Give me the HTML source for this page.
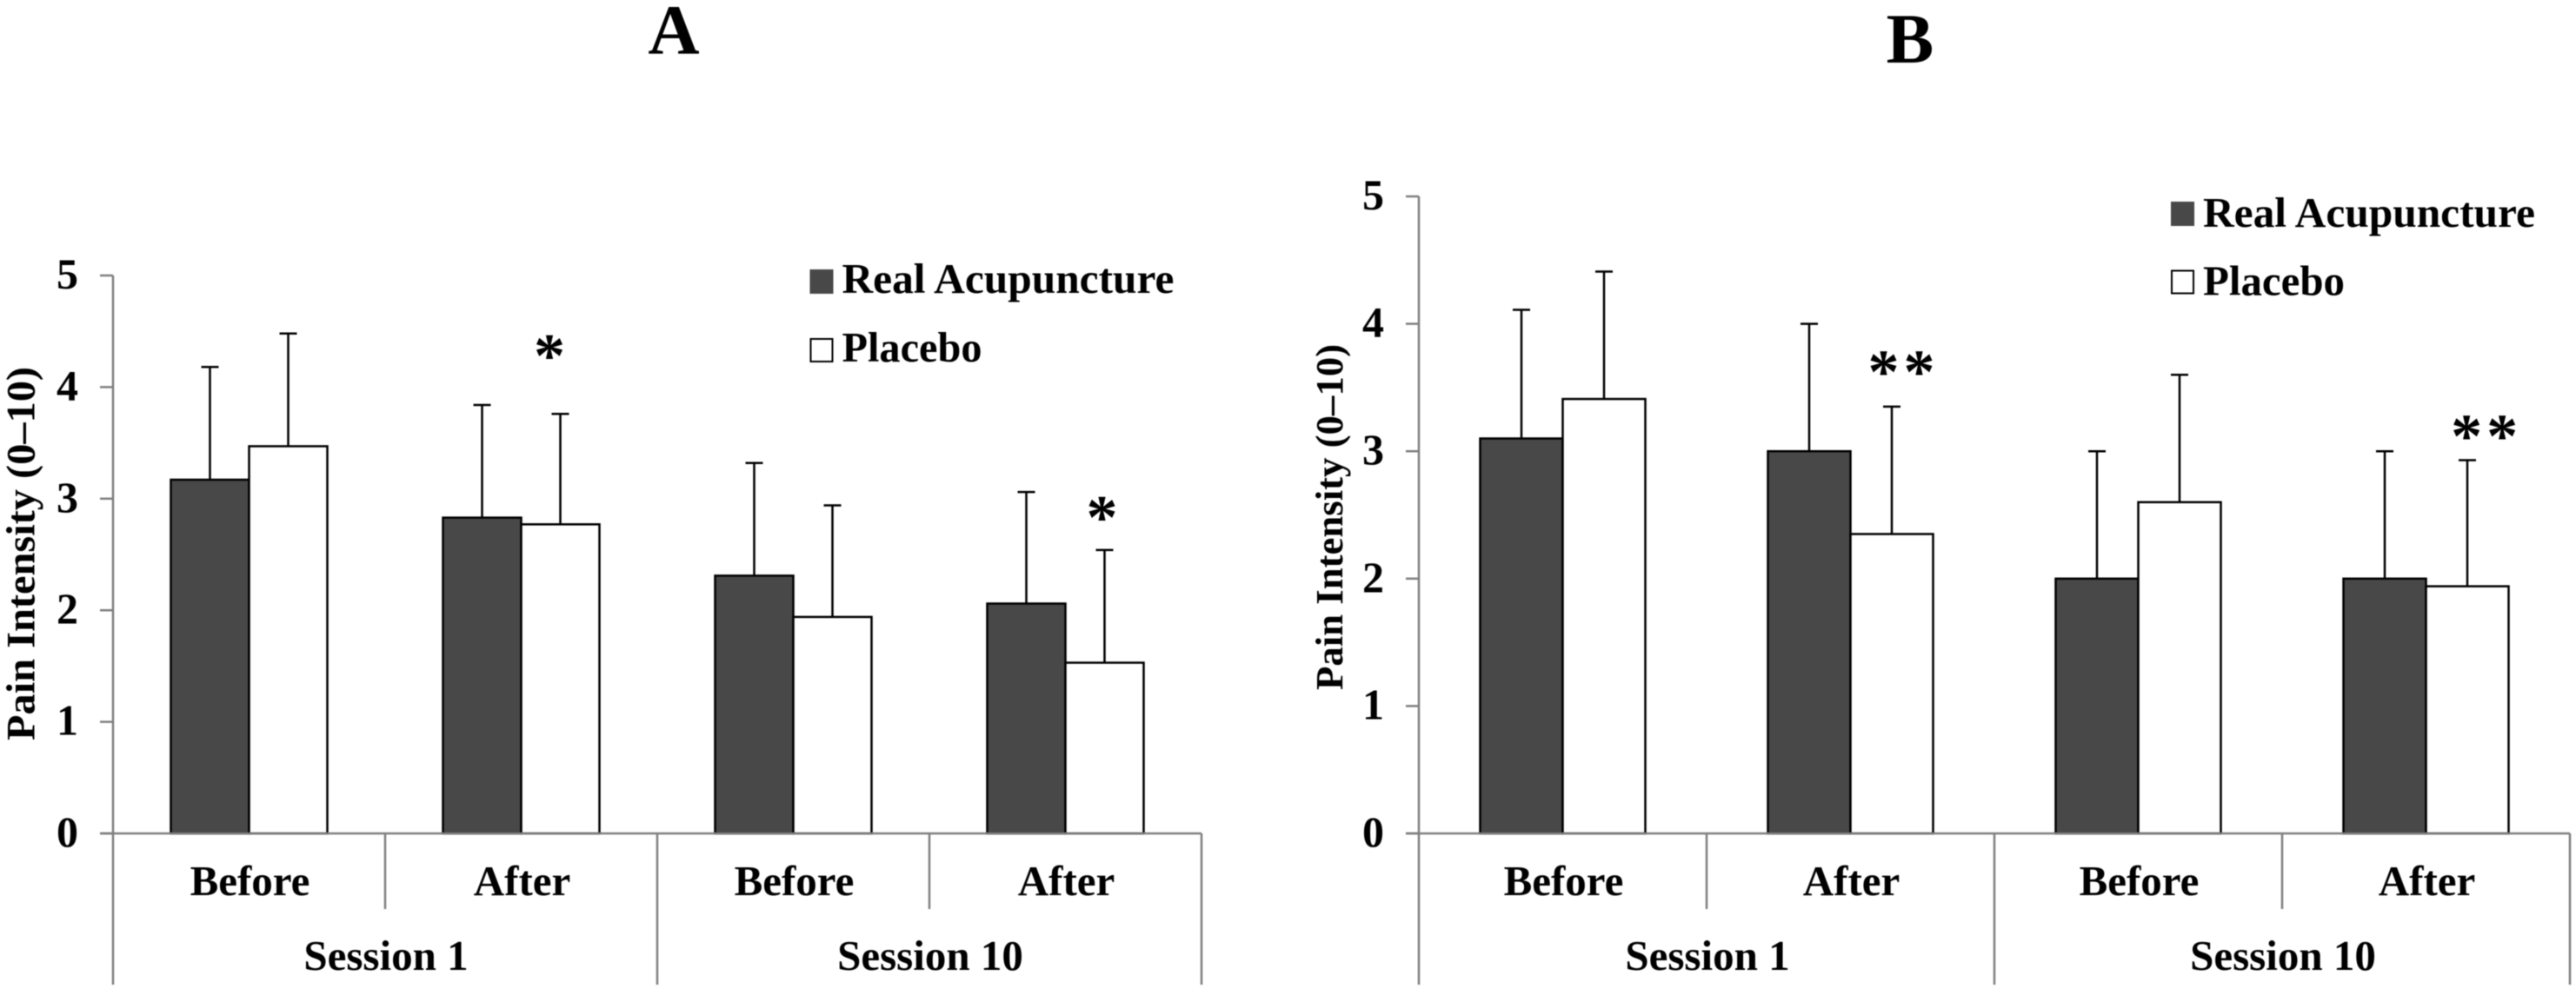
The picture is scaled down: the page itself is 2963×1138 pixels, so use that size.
<!DOCTYPE html>
<html lang="en">
<head>
<meta charset="utf-8">
<title>Pain Intensity: Real Acupuncture vs Placebo</title>
<style>
html,body{margin:0;padding:0;background:#fff;}
svg{display:block;filter:blur(0.5px);}
text{font-family:"Liberation Serif","Times New Roman",serif;font-weight:bold;fill:#000;}
</style>
</head>
<body>
<svg id="figure" width="2963" height="1138" viewBox="0 0 2963 1138" xmlns="http://www.w3.org/2000/svg"></svg>
<script>
// ---- data ----
const categories = ["Before", "After", "Before", "After"];
const sessions = ["Session 1", "Session 10"];
const yTicks = [0, 1, 2, 3, 4, 5];
const seriesNames = ["Real Acupuncture", "Placebo"];
const yAxisTitle = "Pain Intensity (0\u201310)";

const realA = [3.17, 2.83, 2.31, 2.06];
const placeboA = [3.47, 2.77, 1.94, 1.53];
const realTopA = [4.18, 3.84, 3.32, 3.06];
const placeboTopA = [4.48, 3.76, 2.94, 2.54];
const marksA = ["", "*", "", "*"];
const markLevelsA = [0, 4.32, 0, 2.87];

const realB = [3.1, 3.0, 2.0, 2.0];
const placeboB = [3.41, 2.35, 2.6, 1.94];
const realTopB = [4.11, 4.0, 3.0, 3.0];
const placeboTopB = [4.41, 3.35, 3.6, 2.93];
const marksB = ["", "**", "", "**"];
const markLevelsB = [0, 3.656, 0, 3.15];

// ---- drawing ----
const SVGNS = "http://www.w3.org/2000/svg";
const AXIS = "#7f7f7f", DARK = "#484848";
const root = document.getElementById("figure");

function mk(parent, tag, attrs, txt) {
  const el = document.createElementNS(SVGNS, tag);
  for (const k in attrs) el.setAttribute(k, attrs[k]);
  if (txt !== undefined) el.textContent = txt;
  parent.appendChild(el);
  return el;
}

function drawPanel(p) {
  const g = mk(root, "g", {});
  
  

  const catW = (p.x1 - p.x0) / categories.length;
  const xc = i => p.x0 + (i + 0.5) * catW;
  const yv = v => p.y0 - v * (p.y0 - p.y5) / 5;

  const title = mk(g, "text", {x: p.titleX, y: p.titleY, "text-anchor": "middle", "font-size": 82}, p.title);
  
  

  // bars and error bars
  [[p.real, p.realTop, -1, DARK, 'real'], [p.placebo, p.placeboTop, 0, "#ffffff", 'placebo']].forEach(s => {
    s[0].forEach((v, i) => {
      const left = xc(i) + s[2] * p.barW;
      const mid = left + p.barW / 2;
      const err = mk(g, "g", {stroke: "#000", "stroke-width": 2.5});
      
      
      mk(err, "line", {x1: mid, x2: mid, y1: yv(v), y2: yv(s[1][i])});
      mk(err, "line", {x1: mid - 10, x2: mid + 10, y1: yv(s[1][i]), y2: yv(s[1][i])});
      const bar = mk(g, "rect", {x: left, y: yv(v), width: p.barW, height: p.y0 - yv(v), fill: s[3], stroke: "#000", "stroke-width": 2.5});
      
      
    });
  });

  // significance marks
  p.marks.forEach((m, i) => {
    if (!m) return;
    const t = mk(g, "text", {x: xc(i) + p.markDx[i], y: yv(p.markLevels[i]) + 29, "text-anchor": "middle", "font-size": 72, "letter-spacing": m.length > 1 ? 5 : 0}, m);
    
    
  });

  // axes
  const axes = mk(g, "g", {stroke: AXIS, "stroke-width": 2.5});
  
  
  mk(axes, "line", {x1: p.x0, x2: p.x0, y1: p.y5, y2: p.yBottom});
  mk(axes, "line", {x1: p.x0 - 15, x2: p.x1, y1: p.y0, y2: p.y0});
  yTicks.forEach(v => {
    mk(axes, "line", {x1: p.x0 - 15, x2: p.x0, y1: yv(v), y2: yv(v)});
    const t = mk(g, "text", {x: p.x0 - 40, y: yv(v) + 15, "text-anchor": "end", "font-size": 50}, String(v));
    
    
  });
  categories.forEach((c, i) => {
    const isSessionEdge = (i + 1) % 2 === 0;
    mk(axes, "line", {x1: p.x0 + (i + 1) * catW, x2: p.x0 + (i + 1) * catW, y1: p.y0, y2: isSessionEdge ? p.yBottom : 1046});
    const t = mk(g, "text", {x: xc(i) + 1, y: 1030, "text-anchor": "middle", "font-size": 49}, c);
    
    
  });
  sessions.forEach((s, i) => {
    const t = mk(g, "text", {x: p.x0 + (i + 0.5) * 2 * catW + 1, y: 1116, "text-anchor": "middle", "font-size": 49}, s);
    
    
  });

  // y title
  const yt = mk(g, "text", {transform: "translate(" + p.ytX + "," + p.ytY + ") rotate(-90)", "text-anchor": "middle", "font-size": p.ytSize, textLength: p.ytLen, lengthAdjust: "spacingAndGlyphs"}, yAxisTitle);
  
  

  // legend
  seriesNames.forEach((n, i) => {
    const e = mk(g, "g", {});
    
    
    mk(e, "rect", {x: p.legX, y: p.legY[i] - 26, width: 25, height: 26, fill: i === 0 ? DARK : "#fff", stroke: i === 0 ? DARK : "#000", "stroke-width": 2});
    mk(e, "text", {x: p.legX + 36, y: p.legY[i] + p.legDy, "font-size": 49, textLength: p.legLen[i], lengthAdjust: "spacingAndGlyphs"}, n);
  });
}

drawPanel({
  id: "a", title: "A", titleX: 775, titleY: 62,
  x0: 130, x1: 1382, y0: 959, y5: 317, yBottom: 1133, barW: 90,
  real: realA, placebo: placeboA, realTop: realTopA, placeboTop: placeboTopA,
  marks: marksA, markLevels: markLevelsA, markDx: [0, 32.5, 0, 42],
  ytX: 39.5, ytY: 637, ytSize: 47, ytLen: 430,
  legX: 932.5, legY: [337, 416], legDy: 0, legLen: [382, 161]
});

drawPanel({
  id: "b", title: "B", titleX: 2197, titleY: 72,
  x0: 1632, x1: 2956, y0: 959, y5: 226, yBottom: 1133, barW: 95,
  real: realB, placebo: placeboB, realTop: realTopB, placeboTop: placeboTopB,
  marks: marksB, markLevels: markLevelsB, markDx: [0, 61, 0, 69.6],
  ytX: 1544, ytY: 595, ytSize: 44, ytLen: 398,
  legX: 2498, legY: [259, 337.5], legDy: 2, legLen: [382, 163]
});
</script>
</body>
</html>
